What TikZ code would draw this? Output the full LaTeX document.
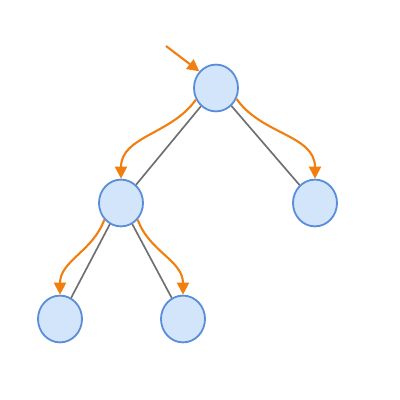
\documentclass[tikz,border=0pt]{standalone}
\usetikzlibrary{positioning,arrows.meta,shapes.geometric}
\definecolor{treefill}{HTML}{D3E5FB}
\definecolor{treeline}{HTML}{5A8EDB}
\definecolor{walkorange}{HTML}{F07F0F}
\definecolor{edgegray}{HTML}{707070}

\begin{document}
\begin{tikzpicture}[x=0.025cm, y=-0.025cm]
	\useasboundingbox (0, 0) rectangle (400, 400);
	\begin{scope}
		\tikzstyle{every node}=[ellipse, draw=treeline, line width=1.3pt, fill=treefill, minimum width=1.1cm, minimum height=1.17cm, inner sep=0pt]
		\tikzstyle{edge}=[draw=edgegray, line width=1.2pt]
		\tikzstyle{walk}=[draw=walkorange, line width=1.5pt, -{Triangle[length=8.5pt, width=8.5pt]}]
		\node (root) at (216, 88) {};
		\node (l) at (121, 203) {};
		\node (r) at (315, 203) {};
		\node (ll) at (60, 319) {};
		\node (lr) at (183, 319) {};
		\coordinate (entry) at (166, 46);

		\draw [edge] (root) -- (l);
		\draw [edge] (root) -- (r);
		\draw [edge] (l) -- (ll);
		\draw [edge] (l) -- (lr);

		\draw [walk] (entry) -- (root.135);
		\draw [walk] (root.-150) to[out=-125, in=90] (l.north);
		\draw [walk] (root.-28) to[out=-55, in=90] (r.north);
		\draw [walk] (l.-135) to[out=-110, in=90] (ll.north);
		\draw [walk] (l.-45) to[out=-70, in=90] (lr.north);
	\end{scope}
\end{tikzpicture}
\end{document}
